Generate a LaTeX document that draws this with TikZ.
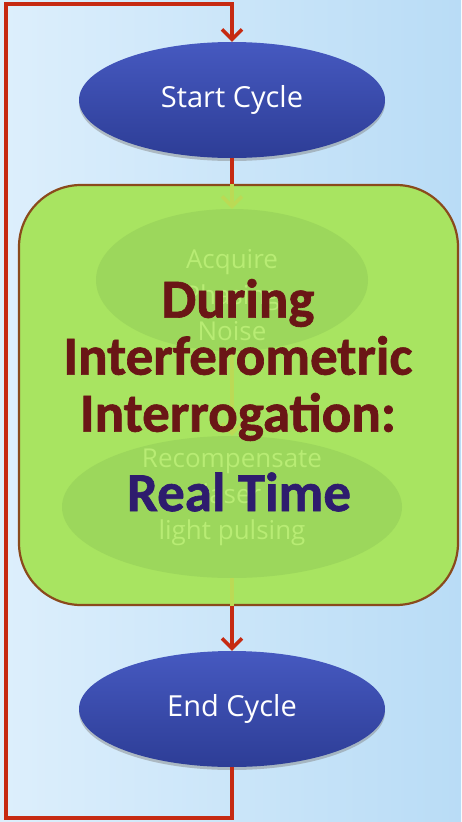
\documentclass[tikz,border=0pt]{standalone}
\usepackage{fontspec}
\setmainfont{Open Sans}
\newfontfamily\boldfam[FakeBold=1.2]{Carlito}
\usetikzlibrary{arrows.meta,shapes.geometric,shadows}
\definecolor{bgL}{HTML}{DDEFFC}
\definecolor{bgR}{HTML}{B9DCF6}
\definecolor{loopred}{HTML}{C62A12}
\definecolor{ovalTop}{HTML}{4659C0}
\definecolor{ovalBot}{HTML}{2D3D96}
\definecolor{boxfill}{HTML}{A8E461}
\definecolor{boxedge}{HTML}{8A4A1C}
\definecolor{innerfill}{HTML}{9CD75C}
\definecolor{faint}{HTML}{B8EC74}
\definecolor{faintline}{HTML}{BBDA55}
\definecolor{maroon}{HTML}{6A1616}
\definecolor{deeppurple}{HTML}{2E1C6E}
\tikzset{
  oval/.style={ellipse, inner sep=0pt, minimum width=306pt, minimum height=116pt,
    top color=ovalTop, bottom color=ovalBot, text=white,
    font=\fontsize{29}{32}\selectfont,
    drop shadow={opacity=0.45, shadow xshift=0pt, shadow yshift=-3pt}},
  inneroval/.style={ellipse, inner sep=0pt, fill=innerfill},
  fainttext/.style={text=faint, align=center, font=\fontsize{26}{36}\selectfont},
  loopline/.style={draw=loopred, line width=3.5pt},
  looparrow/.style={loopline, -{Straight Barb[length=10pt,width=20pt,line width=3.5pt]}},
  faintarrow/.style={draw=faintline, line width=3.5pt, -{Straight Barb[length=10pt,width=20pt,line width=3.5pt]}},
  bigtext/.style={align=center, font=\boldfam\bfseries\fontsize{55}{57}\selectfont},
}
\begin{document}
\begin{tikzpicture}[x=1pt,y=-1pt]
\useasboundingbox (0,0) rectangle (461,822);
\shade[left color=bgL, right color=bgR] (0,0) rectangle (461,822);

% green container
\node[rectangle, rounded corners=62pt, minimum width=439pt, minimum height=420pt,
      draw=boxedge, line width=2.2pt, fill=boxfill] (box) at (238.5,395) {};

% faint inner flowchart
\node[inneroval, minimum width=272pt, minimum height=142pt] (e1) at (232,280) {};
\node[inneroval, minimum width=340pt, minimum height=142pt] (e2) at (232,507) {};
\node[fainttext] (t1) at (232,295) {Acquire\\Phasing\\Noise};
\node[fainttext] (t2) at (232,497) {Recompensate\\laser\\light pulsing};

% start / end ovals
\node[oval] (start) at (232,100) {\raisebox{-3pt}{Start Cycle}};
\node[oval] (endc) at (232,709) {\raisebox{-3pt}{End Cycle}};

% connectors
\coordinate (tl) at (6,4);
\coordinate (bl) at (6,818);
\coordinate (boxtop) at (start.south |- box.north);
\coordinate (boxbot) at (endc.north |- box.south);
\draw[loopline] (start.south) -- (boxtop);
\draw[faintarrow] (boxtop) -- (e1.north);
\draw[faintarrow] (e1.south) -- (e2.north);
\draw[draw=faintline, line width=3.5pt] (e2.south) -- (boxbot);
\draw[looparrow] (boxbot) -- (endc.north);
\draw[looparrow] (endc.south) |- (bl) -- (tl) -| (start.north);

% overlay captions
\node[bigtext, text=maroon] (cap) at (238,360) {During\\Interferometric\\Interrogation:};
\node[bigtext, text=deeppurple] (rt) at (239,492) {Real Time};
\end{tikzpicture}
\end{document}
